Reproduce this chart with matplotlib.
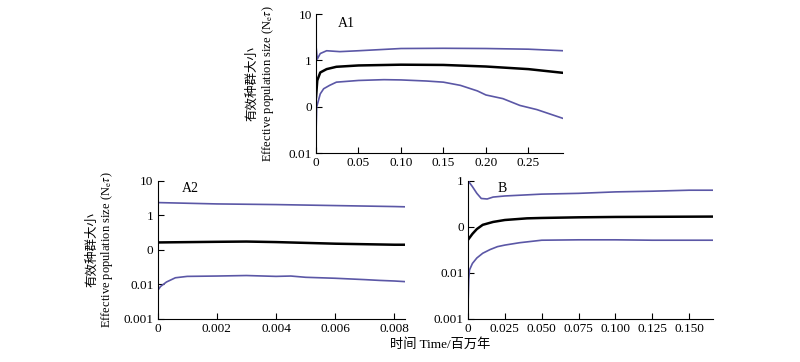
import numpy as np
import matplotlib.pyplot as plt

plt.rcParams['font.family'] = ['Liberation Serif', 'Noto Sans CJK SC']
plt.rcParams['mathtext.fontset'] = 'stix'

# Panel A1 (time in Myr)
a1_t = [0, 0.0015, 0.005, 0.0125, 0.024, 0.05, 0.10, 0.15, 0.20, 0.25, 0.291]
a1_mid = [0.16, 0.37, 0.55, 0.65, 0.73, 0.78, 0.81, 0.80, 0.74, 0.65, 0.54]
a1_up_t = [0, 0.0015, 0.005, 0.0125, 0.028, 0.05, 0.10, 0.15, 0.20, 0.25, 0.291]
a1_up = [2.07, 1.07, 1.41, 1.62, 1.55, 1.62, 1.81, 1.83, 1.81, 1.75, 1.62]
a1_lo_t = [0, 0.0008, 0.005, 0.009, 0.016, 0.024, 0.05, 0.08, 0.10, 0.13, 0.15,
           0.17, 0.19, 0.20, 0.22, 0.24, 0.26, 0.291]
a1_lo = [0.027, 0.099, 0.19, 0.245, 0.29, 0.34, 0.37, 0.385, 0.38, 0.36, 0.34,
         0.29, 0.22, 0.18, 0.15, 0.107, 0.087, 0.056]

# Panel A2
a2_t = [0, 0.002, 0.003, 0.004, 0.006, 0.008, 0.00835]
a2_mid = [0.163, 0.17, 0.173, 0.167, 0.15, 0.14, 0.14]
a2_up_t = [0, 0.002, 0.004, 0.006, 0.008, 0.00835]
a2_up = [2.32, 2.12, 2.03, 1.9, 1.78, 1.75]
a2_lo_t = [0, 0.0001, 0.0003, 0.0006, 0.001, 0.002, 0.003, 0.004, 0.0045,
           0.005, 0.006, 0.007, 0.0075, 0.008, 0.00835]
a2_lo = [0.0066, 0.0087, 0.0117, 0.0155, 0.017, 0.0174, 0.018, 0.017, 0.0174,
         0.016, 0.015, 0.0137, 0.013, 0.0125, 0.012]

# Panel B
b_up_t = [0, 0.003, 0.006, 0.009, 0.013, 0.017, 0.025, 0.05, 0.075, 0.10, 0.125, 0.15, 0.166]
b_up = [1.0, 0.74, 0.53, 0.41, 0.40, 0.44, 0.465, 0.51, 0.53, 0.57, 0.59, 0.62, 0.62]
b_mid_t = [0, 0.003, 0.006, 0.01, 0.017, 0.025, 0.04, 0.05, 0.075, 0.10, 0.166]
b_mid = [0.052, 0.07, 0.089, 0.11, 0.127, 0.14, 0.152, 0.155, 0.16, 0.163, 0.166]
b_lo_t = [0, 0.0005, 0.001, 0.003, 0.006, 0.01, 0.015, 0.02, 0.025, 0.035, 0.05,
          0.075, 0.10, 0.125, 0.15, 0.166]
b_lo = [0.0019, 0.0071, 0.0115, 0.016, 0.021, 0.0266, 0.032, 0.037, 0.040, 0.045,
        0.051, 0.052, 0.052, 0.051, 0.051, 0.051]

blue = '#5b57a6'
fs = 9.5

fig = plt.figure(figsize=(8, 3.62), dpi=100)
ax1 = fig.add_axes([0.395, 0.577, 0.309, 0.384])
ax2 = fig.add_axes([0.197, 0.119, 0.309, 0.382])
ax3 = fig.add_axes([0.585, 0.119, 0.306, 0.382])


def style(ax, xmax, ylim, yticks, ylabels, xticks, xlabels):
    ax.set_yscale('log')
    ax.set_xlim(0, xmax)
    ax.set_ylim(*ylim)
    ax.set_yticks(yticks)
    ax.set_yticklabels(ylabels)
    ax.minorticks_off()
    ax.set_xticks(xticks)
    ax.set_xticklabels(xlabels)
    for s in ['top', 'right']:
        ax.spines[s].set_visible(False)
    ax.tick_params(direction='in', length=4, width=0.8, labelsize=fs, pad=3)


ax1.plot(a1_up_t, a1_up, color=blue, lw=1.2)
ax1.plot(a1_t, a1_mid, color='black', lw=1.8)
ax1.plot(a1_lo_t, a1_lo, color=blue, lw=1.2)
style(ax1, 0.291, (0.01, 10), [0.01, 0.1, 1, 10], ['0.01', '0', '1', '10'],
      [0, 0.05, 0.10, 0.15, 0.20, 0.25], ['0', '0.05', '0.10', '0.15', '0.20', '0.25'])
ax1.text(0.09, 0.93, 'A1', transform=ax1.transAxes, fontsize=10, va='center')

ax2.plot(a2_up_t, a2_up, color=blue, lw=1.2)
ax2.plot(a2_t, a2_mid, color='black', lw=1.8)
ax2.plot(a2_lo_t, a2_lo, color=blue, lw=1.2)
style(ax2, 0.00835, (0.001, 10), [0.001, 0.01, 0.1, 1, 10], ['0.001', '0.01', '0', '1', '10'],
      [0, 0.002, 0.004, 0.006, 0.008], ['0', '0.002', '0.004', '0.006', '0.008'])
ax2.text(0.1, 0.94, 'A2', transform=ax2.transAxes, fontsize=10, va='center')

ax3.plot(b_up_t, b_up, color=blue, lw=1.2)
ax3.plot(b_mid_t, b_mid, color='black', lw=1.8)
ax3.plot(b_lo_t, b_lo, color=blue, lw=1.2)
style(ax3, 0.166, (0.001, 1), [0.001, 0.01, 0.1, 1], ['0.001', '0.01', '0', '1'],
      [0, 0.025, 0.05, 0.075, 0.10, 0.125, 0.15],
      ['0', '0.025', '0.050', '0.075', '0.100', '0.125', '0.150'])
ax3.text(0.12, 0.94, 'B', transform=ax3.transAxes, fontsize=10, va='center')

# y axis titles
for ax, xc, xe in [(ax1, 252, 268), (ax2, 92, 107)]:
    bb = ax.get_position()
    yc = (bb.y0 + bb.y1) / 2
    fig.text(xc / 800, yc, '有效种群大小', rotation=90, ha='center', va='center',
             fontsize=9, family=['Noto Sans CJK SC'])
    fig.text(xe / 800, yc, r'Effective population size (N$_{\mathrm{e}}\tau$)', rotation=90,
             ha='center', va='center', fontsize=9)

fig.text(440 / 800, 1 - 345 / 362, '时间 Time/百万年', ha='center', va='center', fontsize=9.5)

fig.savefig('out.png', dpi=100)
